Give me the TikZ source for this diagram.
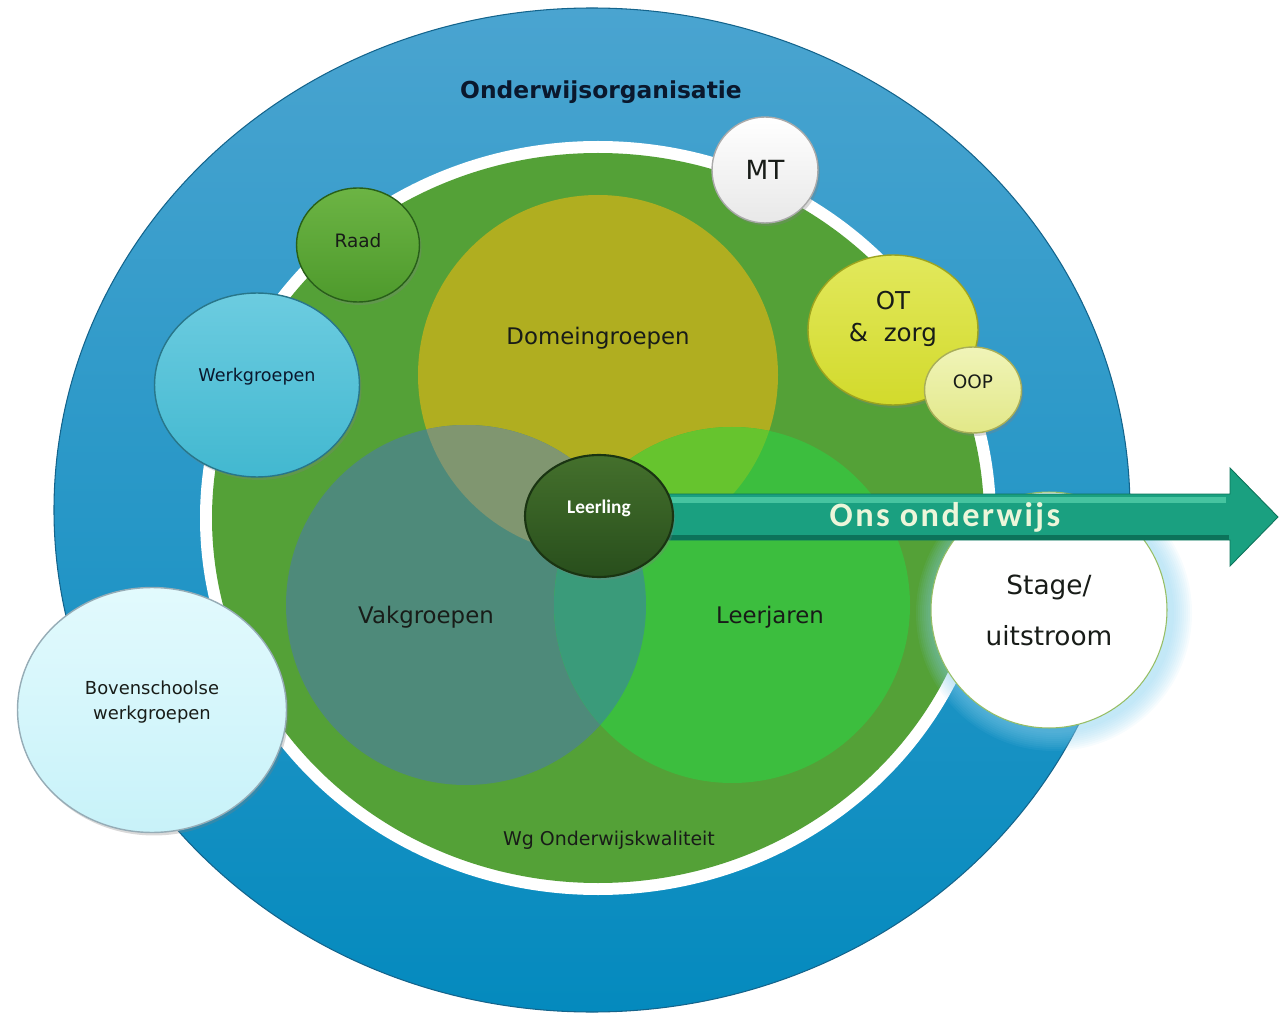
\documentclass[tikz,border=0pt]{standalone}
\usepackage{fontspec}
\setmainfont{DejaVu Sans}
\newfontfamily\calibrifont{Carlito}
\newfontfamily\arrowfont[LetterSpace=7]{Carlito}
\usetikzlibrary{shapes.geometric,shadows}

\definecolor{ringtop}{RGB}{74,164,208}
\definecolor{ringbot}{RGB}{4,138,190}
\definecolor{ringedge}{RGB}{20,100,140}
\definecolor{schoolgreen}{RGB}{84,161,55}
\definecolor{domein}{RGB}{176,174,32}
\definecolor{vak}{RGB}{78,138,122}
\definecolor{leer}{RGB}{60,190,62}
\definecolor{domvak}{RGB}{128,150,112}
\definecolor{domleer}{RGB}{102,196,46}
\definecolor{vakleer}{RGB}{58,155,122}
\definecolor{arrowteal}{RGB}{26,160,128}
\definecolor{arrowlight}{RGB}{70,196,160}
\definecolor{arrowdark}{RGB}{12,115,90}
\definecolor{arrowtext}{RGB}{236,246,218}
\definecolor{glowblue}{RGB}{140,210,240}
\definecolor{stageedge}{RGB}{150,190,100}
\definecolor{inktext}{RGB}{24,28,24}
\definecolor{navytext}{RGB}{10,24,45}
\definecolor{leerlingtop}{RGB}{68,112,44}
\definecolor{leerlingbot}{RGB}{40,78,28}
\definecolor{leerlingedge}{RGB}{26,52,18}
\definecolor{mtbot}{RGB}{232,232,232}
\definecolor{mtedge}{RGB}{170,170,170}
\definecolor{raadtop}{RGB}{108,180,68}
\definecolor{raadbot}{RGB}{78,154,44}
\definecolor{raadedge}{RGB}{40,95,25}
\definecolor{werktop}{RGB}{108,204,224}
\definecolor{werkbot}{RGB}{66,184,208}
\definecolor{werkedge}{RGB}{40,118,138}
\definecolor{bovtop}{RGB}{226,250,253}
\definecolor{bovbot}{RGB}{200,242,249}
\definecolor{bovedge}{RGB}{150,172,182}
\definecolor{ottop}{RGB}{226,232,92}
\definecolor{otbot}{RGB}{210,218,44}
\definecolor{otedge}{RGB}{158,164,30}
\definecolor{ooptop}{RGB}{240,244,184}
\definecolor{oopbot}{RGB}{226,232,136}
\definecolor{oopedge}{RGB}{168,174,88}

\tikzset{
  bubble/.style n args={3}{ellipse, draw=#3, line width=0.8pt, top color=#1, bottom color=#2,
    inner sep=0pt, align=center, text=inktext,
    drop shadow={opacity=0.3, shadow xshift=0.04cm, shadow yshift=-0.06cm}},
  venntext/.style={font=\fontsize{13}{15}\selectfont, text=inktext}
}

\begin{document}
\begin{tikzpicture}[x=0.02cm, y=-0.02cm]
    \useasboundingbox (0,0) rectangle (1285,1013);

    % rings
    \path[top color=ringtop, bottom color=ringbot, draw=ringedge, line width=0.6pt] (592,510) ellipse [x radius=538, y radius=502];
    \fill[white] (598,518) ellipse [x radius=398, y radius=377];
    \fill[schoolgreen] (598,518) ellipse [x radius=386, y radius=365];

    % venn
    \fill[domein] (598,375) circle [radius=180];
    \fill[vak] (466,605) circle [radius=180];
    \fill[leer] (732,605) circle [radius=178];
    \begin{scope}
        \clip (598,375) circle [radius=180];
        \fill[domvak] (466,605) circle [radius=180];
        \fill[domleer] (732,605) circle [radius=178];
    \end{scope}
    \begin{scope}
        \clip (466,605) circle [radius=180];
        \fill[vakleer] (732,605) circle [radius=178];
    \end{scope}
    \node (domein) [venntext] at (598,338) {Domeingroepen};
    \node (vakgroepen) [venntext] at (426,617) {Vakgroepen};
    \node (leerjaren) [venntext] at (770,617) {Leerjaren};

    % stage
    \begin{scope}
        \clip (880,530) rectangle (1285,800);
        \foreach \r in {120,122,...,138}
            \fill[glowblue, opacity=0.07] (1054,613) circle [radius=\r];
    \end{scope}
    \node (stage) [ellipse, fill=white, draw=stageedge, line width=0.6pt, minimum width=4.72cm, minimum height=4.72cm,
        inner sep=0pt, align=center, font=\fontsize{15}{18}\selectfont, text=inktext] at (1049,610) {Stage/\\[11pt]uitstroom};

    % arrow
    \coordinate (tip) at (1278,517);
    \fill[arrowteal, draw=arrowdark, line width=0.5pt] (640,494) -- (1230,494) -- (1230,468) -- (tip) -- (1230,566) -- (1230,540) -- (640,540) -- cycle;
    \fill[arrowlight] (640,497) rectangle (1226,503);
    \fill[arrowdark] (640,535) rectangle (1229,540);
    \node (onderwijs) [font=\arrowfont\bfseries\fontsize{19.5}{22}\selectfont, text=arrowtext] at (945,517) {Ons onderwijs};

    \node (leerling) [ellipse, minimum width=2.96cm, minimum height=2.44cm, top color=leerlingtop, bottom color=leerlingbot,
        draw=leerlingedge, line width=1.2pt, text depth=10pt, text=white, font=\calibrifont\bfseries\fontsize{11}{13}\selectfont,
        drop shadow={opacity=0.3, shadow xshift=0.04cm, shadow yshift=-0.06cm}] at (599,516) {Leerling};

    % bubbles
    \node (mt) [bubble={white}{mtbot}{mtedge}, minimum width=2.12cm, minimum height=2.12cm, font=\fontsize{15}{18}\selectfont] at (765,170) {MT};
    \node (raad) [bubble={raadtop}{raadbot}{raadedge}, minimum width=2.46cm, minimum height=2.28cm, text depth=5.5pt,
        font=\fontsize{10.5}{12}\selectfont] at (358,245) {Raad};
    \node (werkgroepen) [bubble={werktop}{werkbot}{werkedge}, minimum width=4.1cm, minimum height=3.68cm, text depth=11.5pt,
        font=\fontsize{10}{12}\selectfont, text=navytext] at (257,385) {Werkgroepen};
    \node (ot) [bubble={ottop}{otbot}{otedge}, minimum width=3.4cm, minimum height=3cm, text depth=15pt,
        font=\fontsize{14}{18.2}\selectfont] at (893,330) {OT\\\&\ \ zorg};
    \node (oop) [bubble={ooptop}{oopbot}{oopedge}, minimum width=1.94cm, minimum height=1.72cm, text depth=9pt,
        font=\fontsize{10.5}{12}\selectfont] at (973,390) {OOP};
    \node (bovenschools) [bubble={bovtop}{bovbot}{bovedge}, minimum width=5.38cm, minimum height=4.9cm, text depth=11.4pt,
        font=\fontsize{10.2}{14.2}\selectfont] at (152,710) {Bovenschoolse\\werkgroepen};

    % ring labels
    \node (organisatie) [font=\bfseries\fontsize{13.3}{16}\selectfont, text=navytext] at (601,92) {Onderwijsorganisatie};
    \node (kwaliteit) [font=\fontsize{10.8}{13}\selectfont, text=inktext] at (609,840) {Wg Onderwijskwaliteit};
\end{tikzpicture}
\end{document}
